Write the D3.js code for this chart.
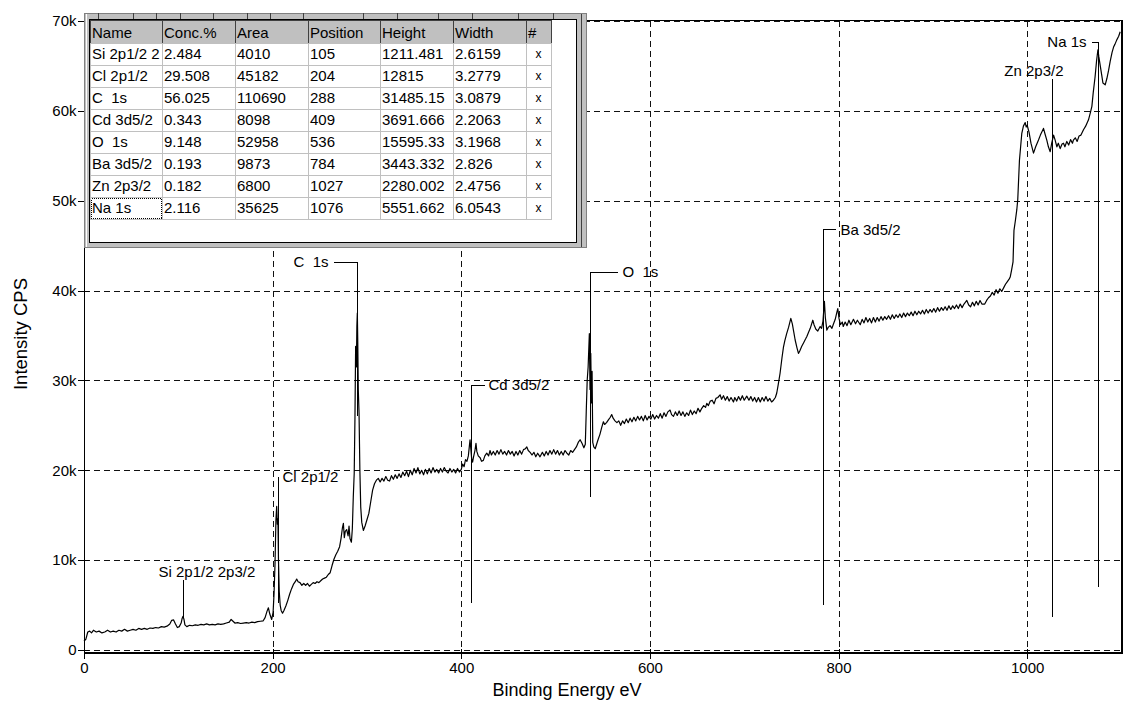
<!DOCTYPE html>
<html>
<head>
<meta charset="utf-8">
<script src="https://cdn.jsdelivr.net/npm/d3@7"></script>
<style>
  body { margin: 0; background: #fff; }
  svg { display: block; font-family: "Liberation Sans", Arial, sans-serif; }
  text { white-space: pre; }
</style>
</head>
<body>
<div id="chart"></div>
<script>
// ---------- data ----------
var energyDomain = [0, 1100];
var intensityDomain = [-334, 70000];
var xTicks = [0, 200, 400, 600, 800, 1000];
var yTicks = [0, 10000, 20000, 30000, 40000, 50000, 60000, 70000];
var yTickLabels = ["0", "10k", "20k", "30k", "40k", "50k", "60k", "70k"];

// [binding energy eV, intensity CPS]
var spectrum = [
  [0,1000],[2,1200],[4,2000],[6,2100],[8,1900],[10,2200],[13,2000],[16,2100],[19,1900],[22,2000],
  [25,2200],[28,2000],[31,2100],[34,2000],[37,2200],[40,2100],[43,2300],[46,2100],[49,2200],[52,2300],
  [55,2200],[58,2400],[61,2300],[64,2400],[67,2300],[70,2450],[73,2400],[76,2500],[79,2450],[82,2600],
  [85,2550],[88,2650],[91,2900],[93,3300],[95,3350],[97,2900],[99,2500],[101,2600],[103,3000],[104,3500],
  [105,3750],[106,3400],[107,2800],[109,2600],[112,2750],[115,2700],[118,2800],[121,2750],[124,2850],[127,2800],
  [130,2900],[133,2800],[136,2850],[139,2800],[142,2900],[145,2850],[148,2900],[151,3000],[154,3100],[156,3400],
  [158,3200],[160,3000],[163,3050],[166,2950],[169,3000],[172,3050],[175,3000],[178,3100],[181,3050],[184,3150],
  [187,3200],[190,3250],[192,3600],[194,4300],[195.5,4700],[197,4000],[199,3400],[200.5,4200],[201.5,6300],[202.5,9500],
  [203.5,14500],[204.3,16000],[205,14000],[205.6,14600],[206.2,10000],[207,6500],[208,5000],[209,4400],[210.5,4100],[212,4400],
  [214,4900],[216,5500],[218,6200],[220,6800],[222,7300],[224,7600],[225.5,7900],[227,7600],[229,7500],[231,7200],
  [233,7400],[235,7200],[237,7400],[239,7100],[241,7300],[243,7500],[245,7400],[247,7600],[249,7500],[251,7700],
  [253,7900],[255,8000],[257,8100],[259,8400],[261,8600],[263,9400],[265,10100],[267,10600],[269,11000],[271,11500],
  [272.5,12400],[274,13600],[275,14100],[276,12500],[277,13200],[278.5,13400],[280,12700],[281,13800],[282,12400],[283.5,12000],
  [284.5,13500],[285.5,17000],[286.5,19700],[287.3,26000],[288,33800],[288.8,31500],[289.3,36000],[289.8,37500],[290.3,34000],[290.8,29000],
  [291.6,26400],[292.5,20000],[293.4,15900],[294.5,14200],[296.2,13300],[298,13800],[300,14500],[302,15200],[304,16500],[306,17800],
  [308,18500],[310,18900],[312,19100],[314,18700],[316,19100],[318,18800],[320,19300],[322,18900],[324,18800],[326,19400],
  [328,19000],[330,19500],[332,19100],[334,19600],[336,19200],[338,19800],[340,19400],[342,19900],[344,19300],[346,20000],
  [348,19500],[350,20200],[352,19700],[354,20300],[356,19600],[358,20000],[360,19500],[362,20100],[364,19600],[366,20200],
  [368,19700],[370,20300],[372,19800],[374,20100],[376,19700],[378,20200],[380,19800],[382,20300],[384,19900],[386,19700],
  [388,20200],[390,19800],[392,20100],[394,19700],[396,20200],[398,19800],[400,20100],[401.5,20700],[403,20400],[404.5,21200],
  [406,21000],[407.5,21600],[408.5,22600],[409.3,23400],[410.2,22300],[411,21300],[412,20900],[413,21500],[414.5,22200],[415.6,23000],
  [416.5,22100],[418,21600],[420,21400],[421.5,21000],[423.4,21100],[425,21600],[427,21900],[429,21600],[430.5,22200],[432,21700],
  [434,22100],[436,21700],[438,22200],[440,21800],[442,22300],[444,21800],[446,22100],[448,21700],[450,22200],[452,21800],
  [454,22100],[456,21600],[458,22100],[460,21700],[462,22200],[464,21800],[466,22300],[468,22400],[469.5,22600],[471,22200],
  [473,22000],[475,21700],[477,22000],[479,21500],[481,21900],[483.5,21500],[486,22000],[488,21600],[490,22100],[492,21700],
  [494,22200],[496,21800],[498,22300],[500,21800],[502,22200],[504,21700],[506,22100],[508,21700],[510,22200],[512,21900],
  [514,21700],[516,22200],[518,22000],[520,22300],[522,22600],[524,23100],[526,23400],[528,23000],[530,22500],[531.5,22900],
  [532.5,26500],[533.5,30000],[534.5,31500],[535.8,35200],[536.5,29000],[537.3,33000],[538,27500],[538.7,31000],[539.4,23100],[540.5,22600],
  [542,22400],[543.5,22900],[545,23400],[547,24000],[549,24800],[550.7,25400],[552,25100],[554,25300],[556,25600],[558,25900],
  [559.5,26200],[561,25800],[563,25500],[565,25300],[567,25500],[569,25000],[571,25500],[573,25200],[575,25700],[577,25300],
  [579,25800],[581,25400],[583,25900],[585,25500],[587,26000],[589,25600],[591,26000],[593,25500],[595,26100],[597,25600],
  [599,26000],[601,25700],[603,26200],[605,25700],[607,26100],[609,25800],[611,26300],[613,25800],[615,26400],[617,26000],
  [619,26500],[621.4,26700],[623,26200],[625,26000],[627,26500],[629,26100],[631,26600],[633,26100],[635,26500],[637,26000],
  [639,26400],[641,26100],[643,26700],[645,26200],[647,26600],[649,26300],[651,26900],[653,26500],[655,26900],[657,27200],
  [659,27000],[660.3,27450],[662,27200],[664,27700],[666,27800],[668,27400],[670,28000],[672,28100],[674.4,28400],[676,27900],
  [678,28300],[680,27800],[682,28200],[684,27700],[686,28100],[688.6,27600],[690,28100],[692,27700],[694,28200],[696,27800],
  [698,28300],[700,27800],[702.7,28250],[705,27800],[707,28200],[709,27700],[711,28100],[713,27600],[715,28100],[717,27600],
  [719,28100],[721,27700],[723,28200],[725,27700],[727,28000],[729,27600],[731,27800],[733,28100],[734.5,28600],[736,29500],
  [738,30800],[740,32500],[741.6,33700],[743,34400],[745,35200],[747,35900],[749.4,36900],[751,36300],[752.5,35400],[754,34500],
  [756,33600],[757.5,33000],[759,33300],[761,33800],[763,34200],[765,34600],[766.4,34900],[768,35300],[770,35800],[772.7,36700],
  [774,36200],[776,35700],[778,35500],[780.5,36000],[782,35800],[783.5,36600],[785,38800],[786,37000],[787.6,35600],[789,35900],
  [791,36100],[793,35800],[794.7,36300],[796.5,36800],[798,37500],[799.2,38000],[800.5,36900],[802,36200],[804,36500],[805,36000],
  [807,36500],[809,36100],[811,36700],[813,36200],[815.8,36800],[818,36300],[820,36700],[823,36200],[825,36800],[827,36400],
  [829,37000],[831,36500],[833,36900],[835,36400],[837,37000],[839,36500],[841,37000],[843,36600],[845,37100],[847,36700],
  [849,37100],[851,36800],[853,37200],[855,36800],[857,37300],[859,36900],[861,37300],[863,37000],[865,37400],[867,37000],
  [869,37500],[871,37100],[873,37500],[875,37200],[877,37600],[879,37200],[881,37700],[883,37300],[885,37700],[887,37400],
  [889,37800],[891,37400],[893,37900],[895,37500],[897,37900],[899,37600],[901,38000],[903,37600],[905,38100],[907,37700],
  [909,38100],[911,37800],[913,38200],[915,37800],[917,38300],[919,37900],[921,38300],[923,38000],[925,38400],[927,38000],
  [929,38500],[931,38100],[933,38500],[936,38900],[938,38400],[940,38200],[942,38700],[944,38300],[946,38800],[948,38400],
  [950,38900],[952,38500],[955,38500],[957,38900],[959,39200],[961,39400],[963,39800],[965,39500],[967,40100],[969,39700],
  [971,40200],[973,39900],[975,40300],[977,40700],[979,41000],[981,41300],[982,41500],[983.5,42300],[985,43200],[986,46700],
  [987.5,47800],[989,49000],[990,50100],[991.8,54500],[994.3,57500],[996,58300],[997.9,58700],[999,58200],[1000,58400],[1002,57600],
  [1004,56400],[1006.7,55300],[1009,56000],[1012,56750],[1014,57300],[1017.3,58050],[1019,57400],[1020.8,56750],[1022.5,56000],[1024.4,55450],
  [1026,56400],[1028,57300],[1029.5,56800],[1031.5,56000],[1033,56400],[1035,55800],[1037,56300],[1038.5,56400],[1040,56000],[1042,56600],
  [1044,56200],[1046,56800],[1048,56400],[1049,56750],[1051,57000],[1053,56600],[1055,57200],[1057,57300],[1059.7,57900],[1062,58300],
  [1065,59000],[1067,59800],[1068.6,60500],[1070,62000],[1072,63800],[1073.5,65500],[1075,66800],[1076,66000],[1077.5,65000],[1079,64000],
  [1080.3,63100],[1082.7,62900],[1084.5,63600],[1086.3,64500],[1088,65500],[1090,66500],[1091.6,67100],[1093,67400],[1095,67900],[1097,68300],
  [1098.6,68800]
];

// peak markers: label, energy, line top / bottom in CPS
var markerLabels = ["Si 2p1/2 2p3/2", "Cl 2p1/2", "C  1s", "Cd 3d5/2", "O  1s", "Ba 3d5/2", "Zn 2p3/2", "Na 1s"];
var markerEnergy = [105.3, 205.4, 289.8, 410.1, 536.6, 784, 1026.8, 1075.6];
var markerTop = [7790, 19290, 43200, 29500, 42100, 46800, 63600, 67700];
var markerBottom = [3560, 5200, 26000, 5200, 17060, 5000, 3700, 7040];

// quantification table
var tableColumns = ["Name", "Conc.%", "Area", "Position", "Height", "Width", "#"];
var peakNames = ["Si 2p1/2 2p3/2", "Cl 2p1/2", "C  1s", "Cd 3d5/2", "O  1s", "Ba 3d5/2", "Zn 2p3/2", "Na 1s"];
var peakConc = ["2.484", "29.508", "56.025", "0.343", "9.148", "0.193", "0.182", "2.116"];
var peakArea = ["4010", "45182", "110690", "8098", "52958", "9873", "6800", "35625"];
var peakPosition = ["105", "204", "288", "409", "536", "784", "1027", "1076"];
var peakHeight = ["1211.481", "12815", "31485.15", "3691.666", "15595.33", "3443.332", "2280.002", "5551.662"];
var peakWidth = ["2.6159", "3.2779", "3.0879", "2.2063", "3.1968", "2.826", "2.4756", "6.0543"];

// ---------- layout ----------
var W = 1126, H = 702;
var plot = {left: 84, right: 1121.5, top: 21, bottom: 653};
var fontSize = 15;
// label placement per marker: side, leader length, gap
var labelLayout = [
  {side: "above", dx: -25, dy: -8},
  {side: "right", leader: 0, gap: 4},
  {side: "left", leader: 24, gap: 5},
  {side: "right", leader: 13, gap: 4},
  {side: "right", leader: 27, gap: 5},
  {side: "right", leader: 12, gap: 5},
  {side: "aboveEnd", dx: 11, dy: -8},
  {side: "left", leader: 7, gap: 5}
];

var svg = d3.select("#chart").append("svg")
  .attr("width", W)
  .attr("height", H);

var x = d3.scaleLinear().domain(energyDomain).range([plot.left, plot.right]);
var y = d3.scaleLinear().domain(intensityDomain).range([plot.bottom, plot.top]);

function px(v) { return Math.round(v) + 0.5; }

// ----------- grid ----------------
var grid = svg.append("g")
  .attr("stroke", "#111")
  .attr("stroke-dasharray", "6,4")
  .attr("shape-rendering", "crispEdges");
grid.selectAll(".vg").data(xTicks).enter().append("line")
  .attr("x1", function(d) { return px(x(d)); })
  .attr("x2", function(d) { return px(x(d)); })
  .attr("y1", plot.top)
  .attr("y2", plot.bottom);
grid.selectAll(".hg").data(yTicks).enter().append("line")
  .attr("x1", plot.left)
  .attr("x2", plot.right)
  .attr("y1", function(d) { return px(y(d)); })
  .attr("y2", function(d) { return px(y(d)); });

// ----------- spectrum ----------------
var line = d3.line()
  .x(function(d) { return x(d[0]); })
  .y(function(d) { return y(d[1]); });
svg.append("path")
  .datum(spectrum)
  .attr("fill", "none")
  .attr("stroke", "#000")
  .attr("stroke-width", 1.2)
  .attr("stroke-linejoin", "round")
  .attr("d", line);

// ----------- peak markers ----------------
var markers = svg.append("g");
markerLabels.forEach(function(label, i) {
  var mx = px(x(markerEnergy[i]));
  var top = y(markerTop[i]);
  var lay = labelLayout[i];
  markers.append("line")
    .attr("x1", mx).attr("x2", mx)
    .attr("y1", top).attr("y2", y(markerBottom[i]))
    .attr("stroke", "#000")
    .attr("shape-rendering", "crispEdges");
  var t = markers.append("text")
    .attr("font-size", fontSize)
    .attr("dy", "0.35em")
    .text(label);
  if (lay.side === "above") {
    t.attr("x", mx + lay.dx).attr("y", top + lay.dy).attr("text-anchor", "start");
  } else if (lay.side === "aboveEnd") {
    t.attr("x", mx + lay.dx).attr("y", top + lay.dy).attr("text-anchor", "end");
  } else {
    var dir = lay.side === "right" ? 1 : -1;
    if (lay.leader > 0) {
      markers.append("line")
        .attr("x1", mx).attr("x2", mx + dir * lay.leader)
        .attr("y1", px(top)).attr("y2", px(top))
        .attr("stroke", "#000")
        .attr("shape-rendering", "crispEdges");
    }
    t.attr("x", mx + dir * (lay.leader + lay.gap))
      .attr("y", top)
      .attr("text-anchor", dir > 0 ? "start" : "end");
  }
});

// ----------- frame ----------------
svg.append("rect")
  .attr("x", plot.left + 0.5)
  .attr("y", plot.top - 0.5)
  .attr("width", plot.right - plot.left)
  .attr("height", plot.bottom - plot.top + 0.5)
  .attr("fill", "none")
  .attr("stroke", "#000")
  .attr("stroke-width", 1.2)
  .attr("shape-rendering", "crispEdges");

// ----------- axes ----------------
svg.append("g")
  .attr("transform", "translate(" + (plot.left + 0.5) + ",0)")
  .call(d3.axisLeft(y).tickValues(yTicks).tickSize(7).tickPadding(1)
    .tickFormat(function(d, i) { return yTickLabels[i]; }));
svg.append("g")
  .attr("transform", "translate(" + (plot.left + 0.5) + ",0)")
  .call(d3.axisRight(y).tickValues(yTicks).tickSize(4).tickFormat(""));
svg.append("g")
  .attr("transform", "translate(0," + (plot.bottom + 0.5) + ")")
  .call(d3.axisBottom(x).tickValues(xTicks).tickSize(5).tickPadding(4).tickFormat(d3.format("d")));
svg.append("g")
  .attr("transform", "translate(0," + (plot.bottom + 0.5) + ")")
  .call(d3.axisTop(x).tickValues(xTicks).tickSize(5).tickFormat(""));
svg.selectAll(".domain").remove();
svg.selectAll(".tick line").attr("stroke", "#000").attr("shape-rendering", "crispEdges");
svg.selectAll(".tick text")
  .attr("fill", "#000")
  .style("font-size", fontSize + "px")
  .style("font-family", "'Liberation Sans', Arial, sans-serif");

// axis titles
svg.append("text")
  .attr("x", 567)
  .attr("y", 690)
  .attr("dy", "0.35em")
  .attr("text-anchor", "middle")
  .attr("font-size", 18)
  .text("Binding Energy eV");
svg.append("text")
  .attr("transform", "translate(21,334) rotate(-90)")
  .attr("dy", "0.35em")
  .attr("text-anchor", "middle")
  .attr("font-size", 18.5)
  .text("Intensity CPS");

// ----------- quantification table ----------------
var panel = {x: 84, y: 13, w: 502, h: 234};
var inner = {x: 89.5, y: 19.5, w: 487, h: 222.5};
var colWidths = [72, 73, 73, 72, 73, 73, 25];
var colX = [90];
colWidths.forEach(function(w, i) { colX.push(colX[i] + w); });
var headerTop = 20, headerH = 23, rowH = 22;
var stripDividers = [98, 133, 156, 180, 213, 247, 270, 303, 363, 397, 438, 472, 518, 553];

var tbl = svg.append("g").attr("shape-rendering", "crispEdges");
tbl.append("rect")
  .attr("x", panel.x + 0.5).attr("y", panel.y + 0.5)
  .attr("width", panel.w).attr("height", panel.h)
  .attr("fill", "#c0c0c0").attr("stroke", "#808080");
tbl.append("line")
  .attr("x1", panel.x + 2.5).attr("x2", panel.x + 2.5)
  .attr("y1", panel.y + 1).attr("y2", panel.y + panel.h)
  .attr("stroke", "#fff");
tbl.append("line")
  .attr("x1", panel.x + panel.w - 4.5).attr("x2", panel.x + panel.w - 4.5)
  .attr("y1", panel.y + 1).attr("y2", panel.y + panel.h)
  .attr("stroke", "#404040");
tbl.selectAll(".div").data(stripDividers).enter().append("line")
  .attr("x1", function(d) { return d + 0.5; })
  .attr("x2", function(d) { return d + 0.5; })
  .attr("y1", panel.y).attr("y2", inner.y)
  .attr("stroke", "#404040");
tbl.append("rect")
  .attr("x", inner.x).attr("y", inner.y)
  .attr("width", inner.w).attr("height", inner.h)
  .attr("fill", "#fff").attr("stroke", "#000");

// fit a cell text into its column, cutting the end like the grid control does
function fitText(sel, maxW) {
  var full = sel.text();
  var s = full;
  while (s.length > 1 && sel.node().getComputedTextLength() > maxW) {
    s = s.slice(0, -1);
    sel.text(s);
  }
  sel.append("title").text(full);
}

// header cells
tableColumns.forEach(function(c, i) {
  tbl.append("rect")
    .attr("x", colX[i] + 0.5).attr("y", headerTop + 0.5)
    .attr("width", colWidths[i]).attr("height", headerH)
    .attr("fill", "#c0c0c0").attr("stroke", "#404040");
  tbl.append("text")
    .attr("x", colX[i] + 2).attr("y", headerTop + headerH / 2 + 1)
    .attr("dy", "0.35em")
    .attr("font-size", fontSize)
    .text(c);
});

// body cells
var rows = peakNames.map(function(n, r) {
  return [n, peakConc[r], peakArea[r], peakPosition[r], peakHeight[r], peakWidth[r], "x"];
});
rows.forEach(function(row, r) {
  var ry = headerTop + headerH + r * rowH;
  row.forEach(function(val, i) {
    tbl.append("rect")
      .attr("x", colX[i] + 0.5).attr("y", ry + 0.5)
      .attr("width", colWidths[i]).attr("height", rowH)
      .attr("fill", "#fff").attr("stroke", "#c0c0c0");
    var t = tbl.append("text")
      .attr("x", i === 6 ? colX[i] + colWidths[i] / 2 : colX[i] + 2)
      .attr("y", ry + rowH / 2)
      .attr("dy", "0.35em")
      .attr("text-anchor", i === 6 ? "middle" : "start")
      .attr("font-size", i === 6 ? 12 : fontSize)
      .text(val);
    if (i === 0) fitText(t, colWidths[i] - 3);
  });
});
// focus rectangle on last name cell
var lastY = headerTop + headerH + (peakNames.length - 1) * rowH;
tbl.append("rect")
  .attr("x", colX[0] + 1.5).attr("y", lastY + 1.5)
  .attr("width", colWidths[0] - 2).attr("height", rowH - 2)
  .attr("fill", "none").attr("stroke", "#000")
  .attr("stroke-dasharray", "1,1");
</script>
</body>
</html>
